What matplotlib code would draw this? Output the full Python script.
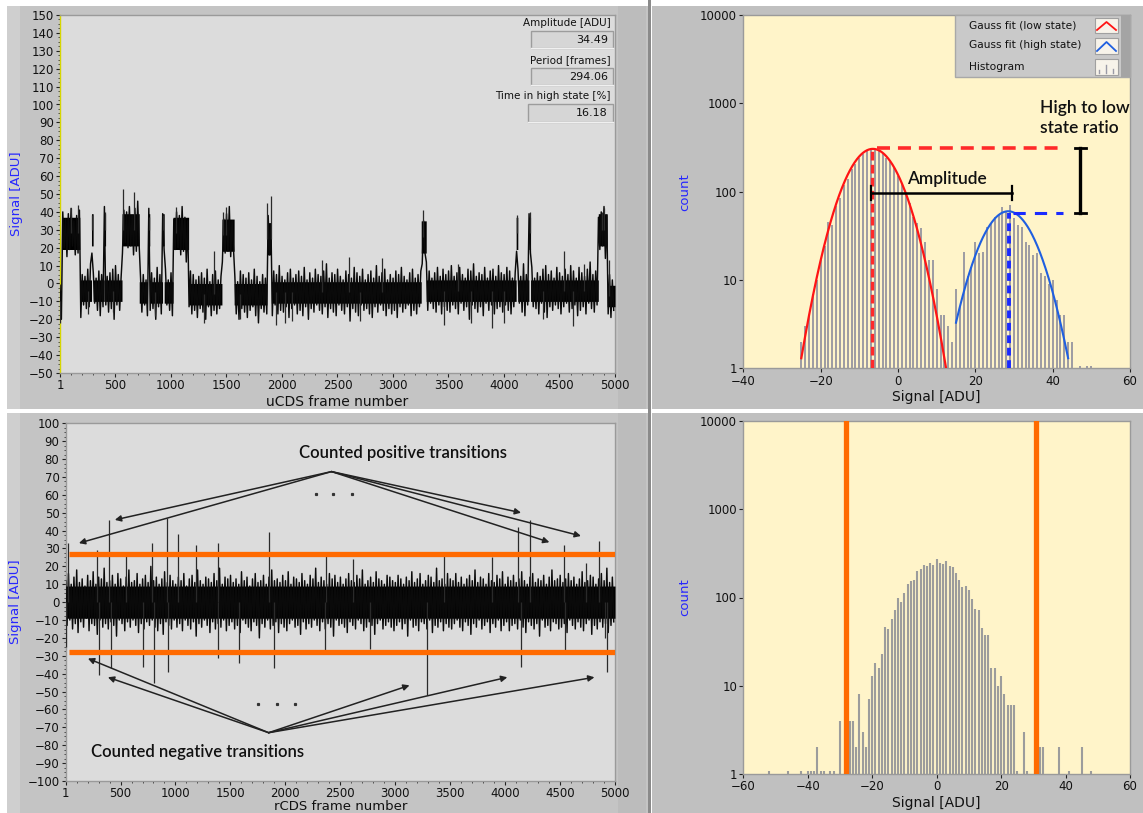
import numpy as np
import matplotlib
matplotlib.use("Agg")
import matplotlib.pyplot as plt
from matplotlib.patches import Rectangle
from matplotlib.ticker import FixedLocator, NullLocator, MultipleLocator

W, H = 1143, 813

# ---------------- data: uCDS time series (top left) ----------------
u_state_edges = [1, 15, 180, 285, 300, 400, 412, 560, 715, 790, 810, 925, 940, 1020,
                 1160, 1460, 1570, 1865, 1905, 3255, 3300, 4110, 4125, 4225, 4240,
                 4850, 4930, 5001]
u_state_levels = [-10, 28, -4, 30, -4, 30, -4, 30, -5, 30, -5, 30, -5, 28, -6, 27,
                  -6, 25, -5, 26, -4, 28, -4, 28, -4, 30, -7]
u_core_low, u_core_high = 6, 9     # dense-band half widths (low / high state)
# upper / lower noise excursions around the state level (every 25 frames)
u_noise_hi = [9, 12, 8, 11, 14, 7, 10, 13, 9, 8, 12, 15, 10, 7, 11, 9, 13, 8, 10, 12,
              14, 9, 7, 11, 10, 13, 8, 12, 16, 9, 10, 7, 12, 11, 8, 14, 10, 9, 13, 7,
              11, 8, 12, 10, 15, 9, 7, 13, 11, 8, 10, 12, 9, 14, 7, 11, 13, 8, 10, 9,
              12, 16, 8, 10, 7, 13, 11, 9, 12, 8, 14, 10, 7, 11, 9, 13, 8, 12, 10, 15,
              9, 7, 11, 13, 8, 10, 12, 9, 14, 7, 11, 8, 13, 10, 9, 12, 16, 8, 11, 10,
              13, 9, 7, 12, 10, 8, 14, 11, 9, 13, 7, 10, 12, 8, 15, 9, 11, 13, 7, 10,
              8, 12, 10, 14, 9, 7, 11, 13, 8, 10, 12, 9, 16, 11, 7, 10, 13, 8, 12, 9,
              11, 14, 8, 10, 13, 9, 7, 12, 11, 15, 8, 10, 9, 13, 7, 11, 12, 8, 14, 10,
              9, 13, 11, 7, 10, 12, 8, 15, 9, 11, 13, 7, 10, 8, 12, 14, 9, 11, 7, 13,
              10, 8, 12, 9, 14, 11, 7, 13, 10, 8, 12, 16, 9, 11, 7, 10, 13, 8, 12, 9]
u_noise_lo = [-10, -8, -13, -9, -7, -12, -11, -15, -8, -10, -9, -13, -7, -11, -14, -9, -8, -12, -10, -16,
              -8, -11, -13, -7, -10, -9, -14, -12, -8, -11, -7, -13, -10, -9, -15, -8, -12, -11, -7, -10,
              -13, -9, -8, -12, -10, -16, -7, -11, -9, -13, -8, -10, -14, -7, -12, -9, -11, -8, -15, -10,
              -9, -12, -7, -11, -14, -8, -10, -13, -9, -7, -12, -16, -8, -10, -11, -9, -13, -7, -12, -10,
              -11, -8, -14, -9, -7, -12, -10, -13, -8, -15, -9, -11, -7, -10, -12, -8, -14, -9, -11, -13,
              -7, -10, -12, -8, -16, -9, -11, -13, -7, -10, -9, -12, -14, -8, -11, -7, -10, -13, -9, -12,
              -10, -14, -8, -11, -9, -7, -13, -10, -12, -8, -15, -9, -11, -7, -10, -12, -8, -13, -9, -11,
              -12, -8, -10, -13, -7, -11, -9, -16, -8, -10, -12, -9, -14, -7, -11, -8, -13, -10, -9, -12,
              -8, -11, -13, -9, -10, -7, -12, -14, -8, -11, -9, -10, -13, -7, -12, -15, -9, -11, -8, -10,
              -13, -9, -7, -12, -10, -8, -14, -11, -9, -13, -7, -10, -12, -8, -11, -9, -16, -10, -12, -8]
u_up_frames = [100, 165, 290, 405, 570, 670, 800, 930, 1050, 1390, 1470, 1500, 1868, 1900,
               2357, 2600, 2900, 3275, 3586, 4115, 4230, 4540, 4720, 4880, 4905, 4946]
u_up_values = [42, 44, 38, 40, 53, 51, 37, 38, 43, 18, 40, 43, 45, 49, 13, 15, 14, 41, 11,
               38, 40, 18, 11, 40, 42, 13]
u_dn_frames = [5, 250, 480, 860, 1300, 1620, 1950, 2030, 2090, 2700, 3460, 3700, 3890,
               4000, 4350, 4622]
u_dn_values = [-22, -17, -16, -18, -22, -20, -23, -22, -21, -21, -23, -22, -25, -22, -20, -24]
indicator_labels = ["Amplitude [ADU]", "Period [frames]", "Time in high state [%]"]
indicator_values = ["34.49", "294.06", "16.18"]

# ---------------- data: uCDS histogram (top right) ----------------
h1_signal = list(range(-25, 46)) + [47, 49, 50]
h1_counts = [2, 3, 4, 7, 10, 17, 24, 45, 42, 68, 85, 118, 140, 180, 205, 240, 265, 285,
             300, 305, 290, 270, 240, 215, 185, 150, 125, 95, 75, 52, 44, 39, 27, 17, 17,
             8, 4, 4, 3, 2,
             8, 5, 21, 11, 14, 27, 20, 21, 40, 44, 52, 56, 67, 60, 71, 50, 42, 40, 27, 25,
             19, 20, 12, 11, 9, 10, 6, 4, 4, 2, 2,
             1, 1, 1]
low_fit = (305, -6.5, 5.6)      # amplitude, mean, sigma
high_fit = (60, 28.5, 5.6)
low_fit_range = (-25, 12.5)
high_fit_range = (15, 44)
low_peak = (-6.8, 310)
high_peak = (28.8, 58)

# ---------------- data: rCDS time series (bottom left) ----------------
r_core = 9
r_noise_hi = [12, 16, 10, 14, 18, 11, 13, 9, 15, 12, 17, 10, 14, 13, 19, 11, 12, 15, 10, 16,
              13, 9, 14, 18, 11, 12, 16, 10, 13, 15, 11, 20, 12, 14, 10, 13, 17, 11, 15, 12,
              10, 14, 12, 16, 9, 13, 15, 11, 18, 12, 10, 14, 13, 11, 16, 12, 19, 10, 14, 13,
              15, 11, 13, 10, 17, 12, 14, 9, 13, 16, 11, 12, 15, 10, 14, 18, 12, 13, 11, 15,
              12, 17, 10, 14, 13, 11, 16, 12, 10, 15, 13, 19, 11, 14, 12, 10, 16, 13, 15, 11,
              14, 10, 13, 16, 12, 11, 15, 13, 18, 10, 12, 14, 11, 17, 13, 12, 10, 15, 14, 12,
              11, 15, 13, 10, 14, 12, 17, 11, 13, 16, 10, 12, 15, 14, 11, 19, 12, 13, 10, 16,
              13, 12, 16, 11, 14, 10, 13, 15, 12, 18, 11, 14, 13, 10, 16, 12, 11, 15, 13, 17,
              10, 14, 12, 15, 11, 13, 17, 12, 10, 14, 16, 11, 13, 12, 15, 10, 14, 18, 12, 13,
              15, 11, 13, 16, 12, 14, 10, 13, 17, 11, 12, 15, 14, 10, 13, 16, 12, 19, 11, 14]
r_noise_lo = [-13, -10, -15, -12, -17, -11, -14, -9, -16, -12, -13, -18, -10, -14, -12, -15, -11, -13, -19, -10,
              -12, -16, -11, -14, -10, -13, -17, -12, -15, -11, -13, -10, -14, -16, -12, -18, -11, -13, -15, -10,
              -14, -12, -16, -10, -13, -15, -11, -19, -12, -14, -10, -13, -17, -11, -15, -12, -14, -10, -16, -13,
              -11, -15, -13, -17, -10, -12, -14, -16, -11, -13, -20, -12, -14, -10, -15, -13, -11, -17, -12, -14,
              -16, -12, -10, -14, -13, -18, -11, -15, -12, -14, -10, -13, -16, -11, -15, -12, -14, -19, -10, -13,
              -12, -14, -17, -11, -13, -15, -10, -12, -16, -14, -11, -13, -18, -12, -10, -15, -13, -11, -14, -16,
              -13, -11, -15, -12, -19, -10, -14, -13, -16, -11, -12, -15, -10, -17, -13, -14, -11, -16, -12, -14,
              -15, -12, -10, -14, -16, -11, -13, -18, -12, -14, -10, -15, -13, -11, -17, -12, -14, -10, -16, -13,
              -11, -16, -13, -12, -15, -10, -14, -17, -11, -13, -15, -12, -19, -10, -14, -13, -16, -11, -12, -15,
              -14, -12, -17, -10, -13, -15, -11, -14, -16, -12, -10, -18, -13, -15, -11, -14, -12, -17, -13, -11]
r_up_frames = [18, 282, 395, 548, 790, 927, 1022, 1185, 1387, 1850, 2366, 2620, 3448, 3885,
               4115, 4230, 4540, 4740, 4850]
r_up_values = [33, 29, 46, 26, 33, 47, 38, 32, 33, 39, 26, 24, 27, 25, 42, 46, 32, 22, 34]
r_dn_frames = [1, 306, 412, 704, 805, 932, 1387, 1580, 1895, 2357, 2773, 3290, 4140, 4548,
               4910, 4927]
r_dn_values = [-25, -41, -37, -36, -45, -39, -31, -34, -37, -27, -26, -52, -36, -27, -20, -39]
r_thresholds = [27, -28]
pos_label = "Counted positive transitions"
neg_label = "Counted negative transitions"
pos_apex = (2420, 73)
pos_heads = [(448, 46), (121, 33), (4145, 50), (4403, 33.5), (4690, 37)]
neg_apex = (1848, -73)
neg_heads = [(203, -31.5), (385, -42), (3130, -46.5), (4020, -42), (4813, -42)]

# ---------------- data: rCDS histogram (bottom right) ----------------
h2_signal = [-52, -46, -42, -40, -39, -38, -37, -36, -35, -33, -32, -30, -27, -26, -25, -24,
             -23, -22, -21, -20, -19, -18, -17, -16, -15, -14, -13, -12, -11, -10, -9, -8,
             -7, -6, -5, -4, -3, -2, -1, 0, 1, 2, 3, 4, 5, 6, 7, 8, 9, 10, 11, 12, 13, 14,
             15, 16, 17, 18, 19, 20, 21, 22, 23, 24, 25, 27, 28, 32, 33, 38, 41, 45, 48]
h2_counts = [1, 1, 1, 1, 1, 1, 2, 1, 1, 1, 1, 4, 4, 4, 2, 8,
             3, 2, 7, 13, 18, 16, 23, 46, 44, 57, 73, 98, 89, 112, 142, 155,
             158, 199, 208, 234, 225, 246, 234, 270, 243, 240, 258, 227, 222, 191, 158, 130,
             135, 121, 96, 75, 73, 45,
             38, 38, 16, 16, 10, 13, 8, 6, 6, 6, 1, 3, 1, 2, 2, 2, 1, 2, 1]
h2_thresholds = [-28.2, 30.8]

# ---------------- figure ----------------
fig = plt.figure(figsize=(W / 100, H / 100), dpi=100, facecolor="white")


def px_rect(x0, y0, x1, y1):
    return [x0 / W, 1 - y1 / H, (x1 - x0) / W, (y1 - y0) / H]


bg = fig.add_axes([0, 0, 1, 1], zorder=-10)
bg.set_xlim(0, W)
bg.set_ylim(H, 0)
bg.axis("off")
for (x0, y0, x1, y1, c) in [(7, 6, 648, 409, "#c4c4c4"), (7, 6, 20, 409, "#cfcfcf"),
                            (652, 6, 1143, 409, "#c0c0c0"),
                            (7, 413, 648, 813, "#c4c4c4"), (7, 413, 20, 813, "#cfcfcf"),
                            (652, 413, 1143, 813, "#c0c0c0"),
                            (618, 6, 646, 409, "#bcbcbc"), (618, 413, 646, 813, "#bcbcbc"),
                            (648, 0, 651, 813, "#8a8a8a")]:
    bg.add_patch(Rectangle((x0, y0), x1 - x0, y1 - y0, color=c, lw=0))

TS_BG = "#dcdcdc"
HI_BG = "#fff4c9"
BLUE = "#2626ff"
ORANGE = "#ff6a00"
TICK_FS = 8.5
ANN_FONT = dict(family="Lato", weight="semibold", color="#111")


def style_axes(ax, facecolor):
    ax.set_facecolor(facecolor)
    for s in ax.spines.values():
        s.set_color("#9a9a9a")
        s.set_linewidth(1.0)
    ax.tick_params(direction="out", length=3, width=0.8, color="#222", labelsize=TICK_FS,
                   pad=1.5, labelcolor="#111")
    ax.tick_params(which="minor", direction="out", length=1.5, width=0.6, color="#333")


def level_trace(edges, levels):
    frames = np.arange(1, 5001)
    idx = np.searchsorted(np.array(edges), frames, side="right") - 1
    return frames, np.array(levels, dtype=float)[idx]


def draw_trace(ax, lvl_frames, lvl, core, hi, lo, upf, upv, dnf, dnv):
    ax.fill_between(lvl_frames, lvl - core, lvl + core, step="mid", color="black", lw=0,
                    zorder=3)
    hi = np.array(hi, float)
    lo = np.array(lo, float)
    n = 2 * len(hi)
    zf = 1 + 12.5 * np.arange(n)
    off = np.empty(n)
    off[0::2] = hi
    off[1::2] = lo
    zi = np.clip(np.round(zf).astype(int), 1, 5000) - 1
    zv = lvl[zi] + off
    ax.plot(zf, zv, color="#0a0a0a", lw=1.05, zorder=3)
    upf = np.array(upf)
    dnf = np.array(dnf)
    ax.vlines(upf, lvl[upf - 1], upv, color="#2a2a2a", lw=0.9, zorder=3)
    ax.vlines(dnf, lvl[dnf - 1], dnv, color="#2a2a2a", lw=0.9, zorder=3)


# ---- top left: uCDS trace ----
ax1 = fig.add_axes(px_rect(60, 15, 615, 373))
style_axes(ax1, TS_BG)
fr, ulvl = level_trace(u_state_edges, u_state_levels)
ucore = np.where(ulvl > 10, u_core_high, u_core_low)
draw_trace(ax1, fr, ulvl, ucore, u_noise_hi, u_noise_lo, u_up_frames, u_up_values,
           u_dn_frames, u_dn_values)
ax1.set_xlim(1, 5000)
ax1.set_ylim(-50, 150)
ax1.set_xticks([1, 500, 1000, 1500, 2000, 2500, 3000, 3500, 4000, 4500, 5000])
ax1.set_yticks(np.arange(-50, 151, 10))
ax1.xaxis.set_minor_locator(MultipleLocator(100))
ax1.yaxis.set_minor_locator(MultipleLocator(2.5))
ax1.spines["left"].set_color("#d6d600")
ax1.set_xlabel("uCDS frame number", fontsize=10, labelpad=2, color="#111")
ax1.set_ylabel("Signal [ADU]", fontsize=9.5, color=BLUE, labelpad=4)

# indicators (pixel overlay)
ov = fig.add_axes([0, 0, 1, 1], zorder=20)
ov.set_xlim(0, W)
ov.set_ylim(H, 0)
ov.axis("off")
ov.patch.set_alpha(0)
ind_y = [23, 60, 96]
box_y = [(31, 48), (68, 85), (104, 122)]
box_x0 = [531, 531, 528]
for lab, val, ty, (b0, b1), bx0 in zip(indicator_labels, indicator_values, ind_y, box_y, box_x0):
    ov.text(611, ty, lab, ha="right", va="center", fontsize=7.5, color="#111")
    ov.add_patch(Rectangle((bx0, b0), 613 - bx0, b1 - b0, facecolor="#d6d6d6",
                           edgecolor="#9c9c9c", lw=1.0))
    ov.plot([bx0, 613], [b1, b1], color="#f0f0f0", lw=1.0)
    ov.text(608, (b0 + b1) / 2 + 0.5, val, ha="right", va="center", fontsize=8,
            color="#111")

# ---- top right: uCDS histogram ----
ax2 = fig.add_axes(px_rect(743.3, 15, 1130, 368.3))
style_axes(ax2, HI_BG)
ax2.set_yscale("log")
h1c = np.maximum(np.array(h1_counts, float), 1.07)
ax2.vlines(h1_signal, 1, h1c, color="#8c8c9c", lw=1.2, zorder=2)


def gauss(x, p):
    a, m, s = p
    return a * np.exp(-(x - m) ** 2 / (2 * s ** 2))


xl = np.linspace(*low_fit_range, 300)
xh = np.linspace(*high_fit_range, 300)
ax2.plot(xl, gauss(xl, low_fit), color="#ff1414", lw=1.6, zorder=4)
ax2.plot(xh, gauss(xh, high_fit), color="#1f5fe0", lw=1.5, zorder=4)
# dashed guides
ax2.plot([low_peak[0] + 1.3, 42.7], [low_peak[1], low_peak[1]], color="#ff2a2a", lw=2.6,
         dashes=(3.6, 2.2), zorder=5)
ax2.plot([low_peak[0], low_peak[0]], [1, low_peak[1]], color="#ff2a2a", lw=2.4,
         dashes=(2.6, 1.3), zorder=5)
ax2.plot([high_peak[0] + 1.0, 42.7], [high_peak[1], high_peak[1]], color="#1a2aff", lw=2.2,
         dashes=(4, 3), zorder=5)
ax2.plot([high_peak[0], high_peak[0]], [1, high_peak[1]], color="#1a2aff", lw=2.8,
         dashes=(2.0, 1.2), zorder=5)
# amplitude bar
ax2.plot([-6.9, 29.5], [96, 96], color="black", lw=1.8, zorder=6)
for xv in (-6.9, 29.5):
    ax2.plot([xv, xv], [80, 115], color="black", lw=1.6, zorder=6)
ax2.text(12.6, 138, "Amplitude", ha="center", va="center", fontsize=12.5, zorder=7,
         **ANN_FONT)
# ratio bar
ax2.plot([47.1, 47.1], [high_peak[1], low_peak[1]], color="black", lw=2.4, zorder=6)
for yv in (high_peak[1], low_peak[1]):
    ax2.plot([45.8, 48.6], [yv, yv], color="black", lw=2.0, zorder=6)
ax2.text(36.8, 680, "High to low\nstate ratio", ha="left", va="center", fontsize=12.5,
         linespacing=1.25, zorder=7, **ANN_FONT)
ax2.set_xlim(-40, 60)
ax2.set_ylim(1, 10000)
ax2.set_xticks([-40, -20, 0, 20, 40, 60])
ax2.yaxis.set_major_locator(FixedLocator([1, 10, 100, 1000, 10000]))
ax2.set_yticklabels(["1", "10", "100", "1000", "10000"])
ax2.yaxis.set_minor_locator(NullLocator())
ax2.set_xlabel("Signal [ADU]", fontsize=10, labelpad=2, color="#111")
ax2.set_ylabel("count", fontsize=9.5, color=BLUE, labelpad=6)

# legend (pixel overlay)
ov.add_patch(Rectangle((955, 15), 175, 62, facecolor="#c9c9c9", edgecolor="#a8a8a8", lw=1))
ov.add_patch(Rectangle((1121, 15), 9, 62, facecolor="#a4a4a4", lw=0))
leg_labels = ["Gauss fit (low state)", "Gauss fit (high state)", "Histogram"]
leg_y = [25, 45.5, 66.5]
icon_y = [(18, 33), (38, 54), (59, 75)]
for lab, ly, (i0, i1), k in zip(leg_labels, leg_y, icon_y, range(3)):
    ov.text(969, ly, lab, ha="left", va="center", fontsize=7.7, color="#111")
    ov.add_patch(Rectangle((1095, i0), 23, i1 - i0, facecolor="#f7f3ea", edgecolor="#a0a0a0",
                           lw=0.8))
    if k < 2:
        c = "#ff1414" if k == 0 else "#1f5fe0"
        ov.plot([1097, 1106.5, 1116], [i1 - 3, i0 + 4, i1 - 3], color=c, lw=1.3)
    else:
        for xx, yt in [(1099, i1 - 5), (1106, i1 - 10), (1113, i1 - 6)]:
            ov.plot([xx, xx], [i1 - 2, yt], color="#9a9aa6", lw=1.0)

# ---- bottom left: rCDS trace ----
ax3 = fig.add_axes(px_rect(65.7, 423.3, 615, 781))
style_axes(ax3, TS_BG)
fr2 = np.arange(1, 5001)
rlvl = np.zeros(5000)
draw_trace(ax3, fr2, rlvl, r_core, r_noise_hi, r_noise_lo, r_up_frames, r_up_values,
           r_dn_frames, r_dn_values)
for t in r_thresholds:
    ax3.plot([30, 5000], [t, t], color=ORANGE, lw=3.8, solid_capstyle="butt", zorder=5)
arrow_kw = dict(arrowstyle="-|>", color="#222222", lw=1.1, mutation_scale=9,
                shrinkA=0, shrinkB=0)
for hd in pos_heads:
    ax3.annotate("", xy=hd, xytext=pos_apex, arrowprops=arrow_kw, zorder=6)
for hd in neg_heads:
    ax3.annotate("", xy=hd, xytext=neg_apex, arrowprops=arrow_kw, zorder=6)
ax3.plot([2275, 2430, 2603], [60.7, 60.7, 60.7], ls="none", marker="s", ms=1.3,
         color="#333", zorder=6)
ax3.plot([1748, 1920, 2085], [-57, -57, -57], ls="none", marker="s", ms=1.3,
         color="#333", zorder=6)
ax3.text(3075, 83.6, pos_label, ha="center", va="center", fontsize=12, zorder=7, **ANN_FONT)
ax3.text(1205, -84, neg_label, ha="center", va="center", fontsize=12, zorder=7, **ANN_FONT)
ax3.set_xlim(1, 5000)
ax3.set_ylim(-100, 100)
ax3.set_xticks([1, 500, 1000, 1500, 2000, 2500, 3000, 3500, 4000, 4500, 5000])
ax3.set_yticks(np.arange(-100, 101, 10))
ax3.xaxis.set_minor_locator(MultipleLocator(100))
ax3.yaxis.set_minor_locator(MultipleLocator(2.5))
ax3.set_xlabel("rCDS frame number", fontsize=9.5, labelpad=0, color="#111")
ax3.set_ylabel("Signal [ADU]", fontsize=9.5, color=BLUE, labelpad=4)

# ---- bottom right: rCDS histogram ----
ax4 = fig.add_axes(px_rect(743.3, 421, 1130, 774))
style_axes(ax4, HI_BG)
ax4.set_yscale("log")
h2c = np.maximum(np.array(h2_counts, float), 1.07)
ax4.vlines(h2_signal, 1, h2c, color="#9c9c9c", lw=1.5, zorder=2)
for t in h2_thresholds:
    ax4.axvline(t, color=ORANGE, lw=3.8, zorder=5)
ax4.set_xlim(-60, 60)
ax4.set_ylim(1, 10000)
ax4.set_xticks([-60, -40, -20, 0, 20, 40, 60])
ax4.yaxis.set_major_locator(FixedLocator([1, 10, 100, 1000, 10000]))
ax4.set_yticklabels(["1", "10", "100", "1000", "10000"])
ax4.yaxis.set_minor_locator(NullLocator())
ax4.set_xlabel("Signal [ADU]", fontsize=10, labelpad=2, color="#111")
ax4.set_ylabel("count", fontsize=9.5, color=BLUE, labelpad=6)

fig.savefig("out.png", dpi=100, facecolor="white")
